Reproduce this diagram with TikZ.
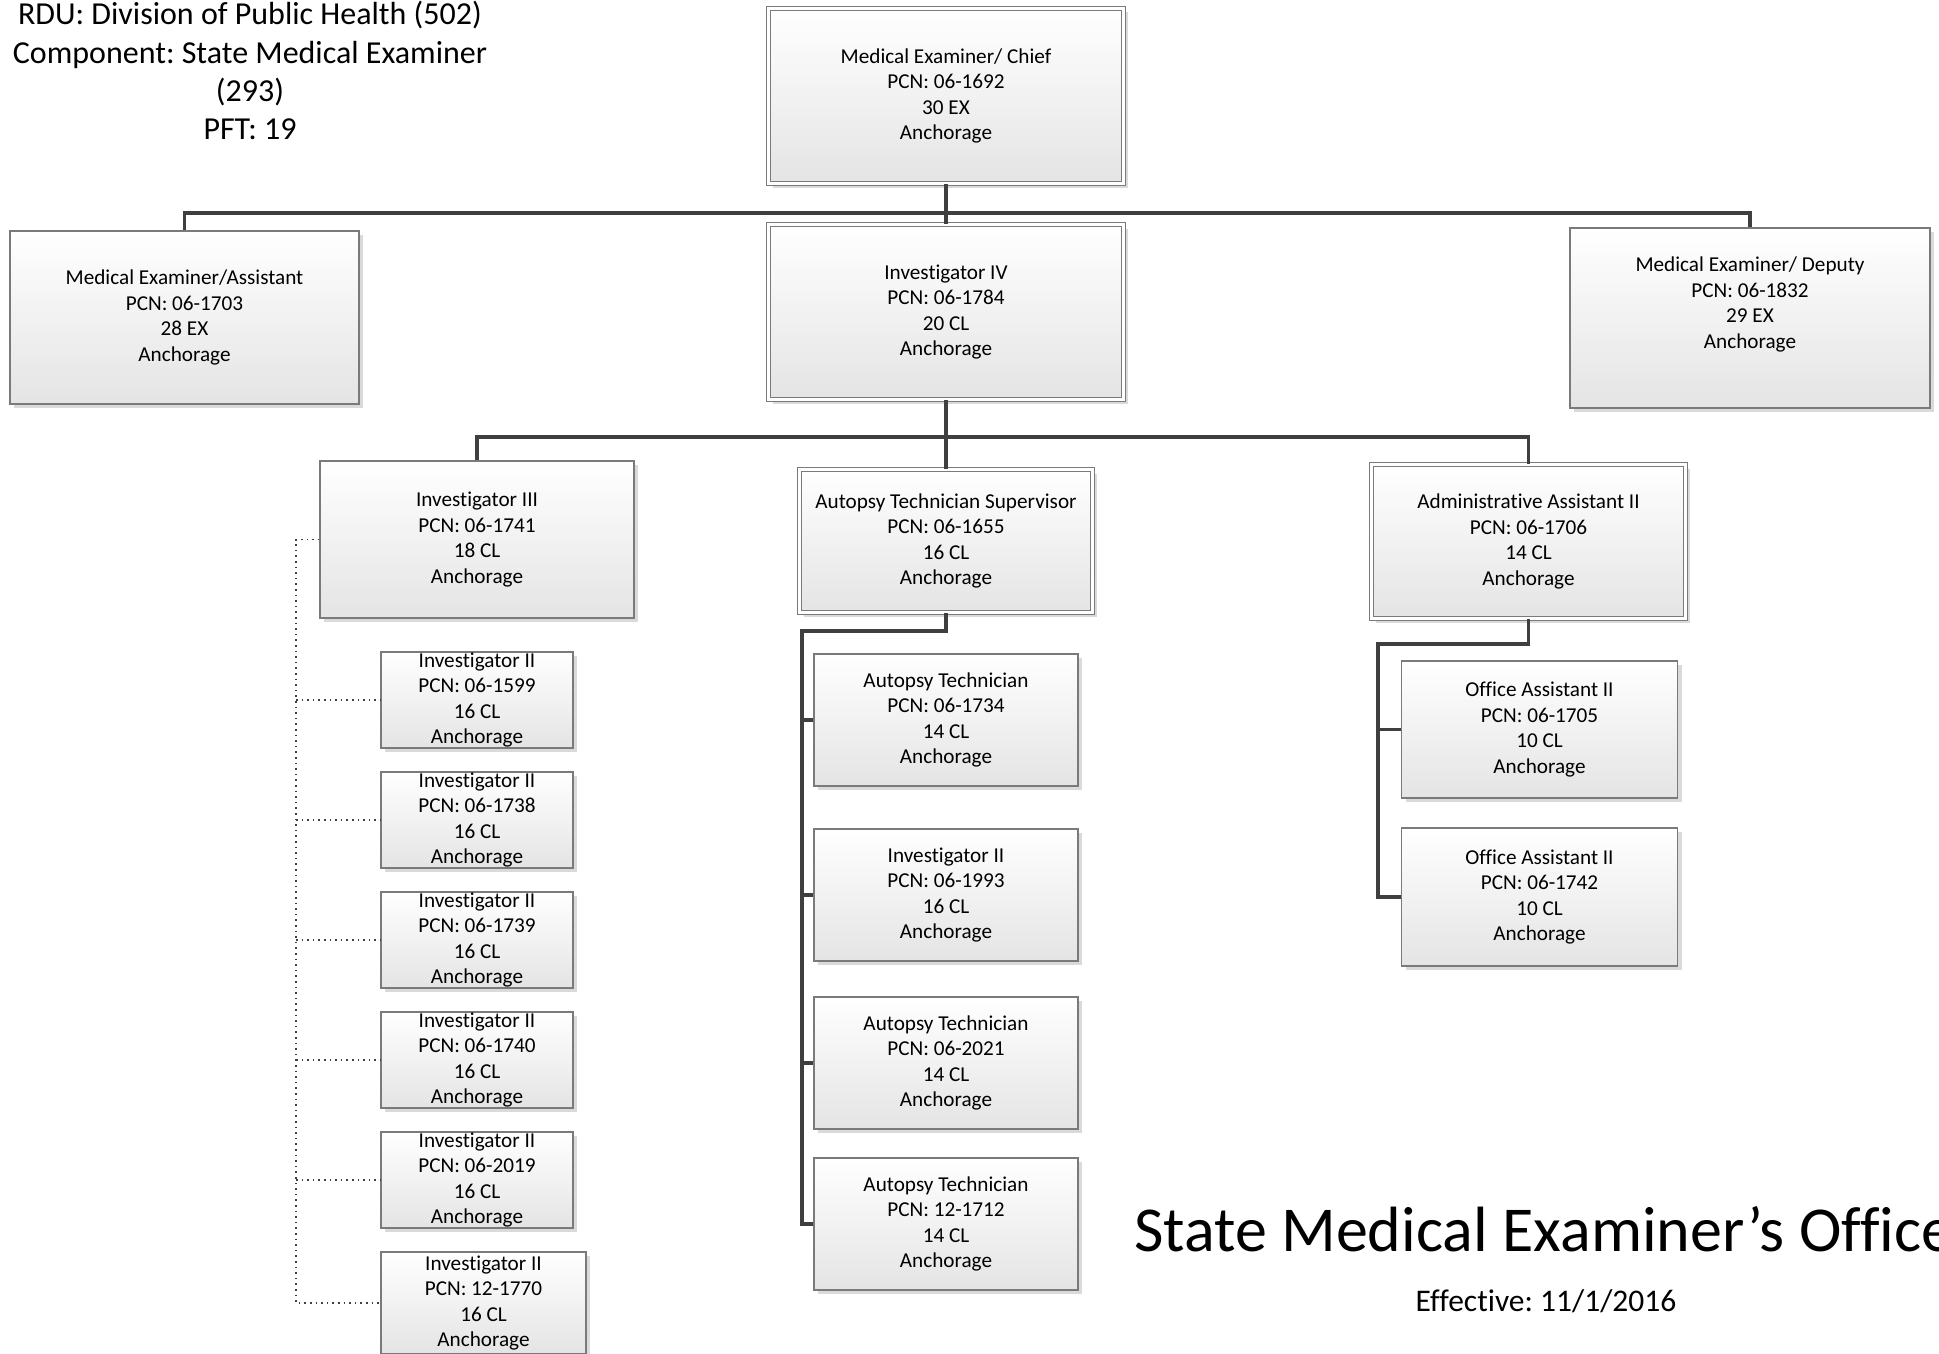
\documentclass[tikz,border=0pt]{standalone}
\usepackage{fontspec}
\setmainfont{Carlito}[RawFeature={-liga;-clig;-calt}]
\usetikzlibrary{shadows}
\definecolor{linegray}{HTML}{3F3F3F}
\definecolor{boxgray}{HTML}{7A7A7A}
\definecolor{boxshade}{HTML}{E4E4E4}
\definecolor{shadowgray}{HTML}{DADADA}
\frenchspacing
\begin{document}
\begin{tikzpicture}[x=1pt,y=-1pt, font=\fontsize{21.2}{25.6}\selectfont]
	\tikzset{
		post/.style 2 args={draw=boxgray, line width=1.3pt, top color=white, bottom color=boxshade,
			minimum width=#1pt, minimum height=#2pt, inner sep=0pt, align=center,
			drop shadow={shadow xshift=4pt, shadow yshift=-4pt, fill=shadowgray, opacity=1}},
		dbl/.style={double=white, double distance=3.2pt, line width=1.2pt},
		conn/.style={draw=linegray, line width=3.5pt},
		dots/.style={draw=linegray, line width=1.6pt, dash pattern=on 1.6pt off 4pt}
	}
	\useasboundingbox (0,0) rectangle (1939,1354);
	\fill[white] (0,0) rectangle (1939,1354);
	% heading
	\node[anchor=north, align=center, inner sep=0pt, font=\fontsize{32}{38.4}\selectfont] (rdu) at (250,1)
	{RDU: Division of Public Health (502)\\Component: State Medical Examiner\\(293)\\PFT: 19};
	% level 1 and 2
	\node[post={355}{175}, dbl] (chief) at (946,96) {Medical Examiner/ Chief\\PCN: 06-1692\\30 EX\\Anchorage};
	\node[post={349}{173}] (asst) at (184.5,317.5) {Medical Examiner/Assistant\\PCN: 06-1703\\28 EX\\Anchorage};
	\node[post={355}{175}, dbl] (inv4) at (946,312) {Investigator IV\\PCN: 06-1784\\20 CL\\Anchorage};
	\node[post={360}{180}] (dep) at (1750,318) {Medical Examiner/ Deputy\\PCN: 06-1832\\29 EX\\Anchorage\\[5pt]\mbox{}};
	% level 3
	\node[post={314}{157}] (inv3) at (477,539.5) {Investigator III\\PCN: 06-1741\\18 CL\\Anchorage};
	\node[post={293}{143}, dbl] (ats) at (946,541) {Autopsy Technician Supervisor\\PCN: 06-1655\\16 CL\\Anchorage};
	\node[post={314}{154}, dbl] (aa2) at (1528.5,541.5) {Administrative Assistant II\\PCN: 06-1706\\14 CL\\Anchorage};
	% investigators
	\foreach \pcn [count=\i] in {06-1599,06-1738,06-1739,06-1740,06-2019}
	\node[post={192}{96}] (inv2\i) at (477,{580+120*\i}) {Investigator II\\PCN: \pcn\\16 CL\\Anchorage};
	\node[post={205}{102}] (inv26) at (483.5,1303) {Investigator II\\PCN: 12-1770\\16 CL\\Anchorage};
	% autopsy
	\node[post={264}{132}] (at1) at (946,720) {Autopsy Technician\\PCN: 06-1734\\14 CL\\Anchorage};
	\node[post={264}{132}] (inv2b) at (946,895) {Investigator II\\PCN: 06-1993\\16 CL\\Anchorage};
	\node[post={264}{132}] (at2) at (946,1063) {Autopsy Technician\\PCN: 06-2021\\14 CL\\Anchorage};
	\node[post={264}{132}] (at3) at (946,1224) {Autopsy Technician\\PCN: 12-1712\\14 CL\\Anchorage};
	% office
	\node[post={276}{137}] (oa1) at (1539.5,729.5) {Office Assistant II\\PCN: 06-1705\\10 CL\\Anchorage};
	\node[post={276}{138}] (oa2) at (1539.5,897) {Office Assistant II\\PCN: 06-1742\\10 CL\\Anchorage};
	% connectors
	\coordinate (bus1) at (946,213);
	\coordinate (bus2) at (946,437);
	\coordinate (atbus) at (802,631);
	\coordinate (oabus) at (1378,644);
	\coordinate (dotbus) at (296,539.5);
	\draw[conn] (asst.north) |- (bus1) -| (dep.north);
	\draw[conn] (chief.south) -- (inv4.north);
	\draw[conn] (inv3.north) |- (bus2) -| (aa2.north);
	\draw[conn] (inv4.south) -- (ats.north);
	\draw[conn] (ats.south) |- (atbus) |- (at3.west);
	\foreach \n in {at1,inv2b,at2}
	\draw[conn] (atbus |- \n.west) -- (\n.west);
	\draw[conn] (aa2.south) |- (oabus) |- (oa2.west);
	\draw[conn] (oabus |- oa1.west) -- (oa1.west);
	\draw[dots] (inv3.west) -- (dotbus) |- (inv26.west);
	\foreach \i in {1,...,5}
	\draw[dots] (dotbus |- inv2\i.west) -- (inv2\i.west);
	% title
	\node[anchor=base west, inner sep=0pt, font=\fontsize{64}{77}\selectfont] (title) at (1134,1251) {State Medical Examiner’s Office};
	\node[anchor=base, inner sep=0pt, font=\fontsize{31.5}{37}\selectfont] (eff) at (1546,1311) {Effective: 11/1/2016};
\end{tikzpicture}
\end{document}
